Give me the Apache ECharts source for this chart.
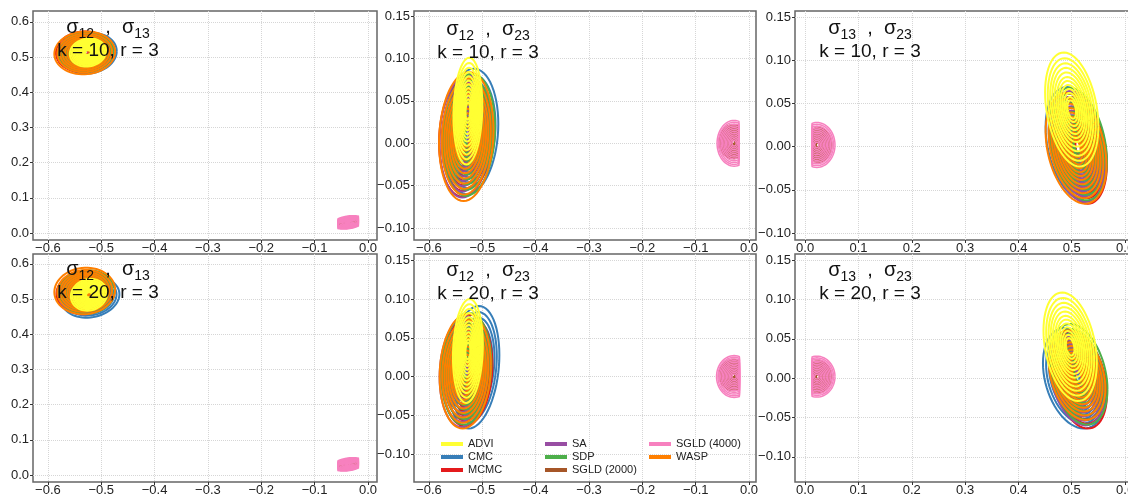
<!DOCTYPE html>
<html>
<head>
<meta charset="utf-8">
<script src="https://cdn.jsdelivr.net/npm/echarts@6/dist/echarts.min.js"></script>
<style>
  html, body { margin: 0; background: #fff; overflow: hidden; }
  #chart { width: 1150px; height: 500px; }
</style>
</head>
<body>
<div id="chart"></div>
<script>
const methods = ['ADVI', 'CMC', 'MCMC', 'SA', 'SDP', 'SGLD (2000)', 'SGLD (4000)', 'WASP'];
const methodColors = ['#FFFF33', '#377EB8', '#E41A1C', '#984EA3', '#4DAF4A', '#A65628', '#F781BF', '#FF7F00'];
// later ones are drawn on top
const drawOrder = [1, 2, 3, 4, 5, 6, 7, 0];

// relative size of each density contour against the outer one
const contourLevels = [1, 0.9, 0.81, 0.73, 0.65, 0.57, 0.5, 0.43, 0.36, 0.29, 0.22, 0.16];
const sgldLevels = [1, 0.92, 0.84, 0.76, 0.68, 0.6, 0.52, 0.44, 0.36, 0.28, 0.2, 0.12];

// outer contour per method: [centre x, centre y, half width, half height, tilt, clip x lo, clip x hi]
const s12s13k10 = [
  [-0.525, 0.513, 0.034, 0.040, 0.1],
  [-0.523, 0.511, 0.052, 0.058, 0.1],
  [-0.533, 0.515, 0.052, 0.058, 0.05],
  [-0.530, 0.513, 0.050, 0.056, 0.05],
  [-0.529, 0.514, 0.051, 0.057, 0.05],
  [-0.037, 0.029, 0.016, 0.015, 0.3, -0.054, -0.020],
  [-0.037, 0.030, 0.030, 0.019, 0.3, -0.056, -0.018],
  [-0.531, 0.512, 0.057, 0.061, 0.05]
];
const s12s23k10 = [
  [-0.527, 0.038, 0.027, 0.063, 0.1],
  [-0.522, 0.014, 0.052, 0.074, 0.12],
  [-0.532, 0.008, 0.049, 0.071, 0.1],
  [-0.533, 0.008, 0.047, 0.072, 0.1],
  [-0.525, 0.010, 0.049, 0.072, 0.12],
  [-0.030, 0.002, 0.026, 0.020, 0, -0.08, -0.021],
  [-0.028, 0.000, 0.032, 0.027, 0, -0.08, -0.019],
  [-0.530, 0.008, 0.051, 0.076, 0.1]
];
const s13s23k10 = [
  [0.500, 0.043, 0.050, 0.066, -0.3],
  [0.508, 0.003, 0.057, 0.066, -0.3],
  [0.515, -0.001, 0.051, 0.065, -0.3],
  [0.510, 0.000, 0.052, 0.064, -0.3],
  [0.512, 0.003, 0.054, 0.065, -0.3],
  [0.024, 0.002, 0.026, 0.020, 0, 0.014, 0.08],
  [0.022, 0.002, 0.034, 0.026, 0, 0.013, 0.08],
  [0.508, -0.002, 0.057, 0.064, -0.3]
];
const s12s13k20 = [
  [-0.523, 0.512, 0.034, 0.045, 0.1],
  [-0.520, 0.505, 0.054, 0.058, 0.15],
  [-0.532, 0.518, 0.052, 0.060, 0.05],
  [-0.530, 0.515, 0.050, 0.058, 0.05],
  [-0.527, 0.520, 0.052, 0.062, 0.05],
  [-0.037, 0.029, 0.016, 0.015, 0.3, -0.054, -0.020],
  [-0.037, 0.030, 0.030, 0.019, 0.3, -0.056, -0.018],
  [-0.531, 0.523, 0.057, 0.066, 0.05]
];
const s12s23k20 = [
  [-0.527, 0.033, 0.028, 0.067, 0.12],
  [-0.516, 0.012, 0.048, 0.079, 0.2],
  [-0.528, 0.008, 0.047, 0.072, 0.1],
  [-0.535, 0.006, 0.045, 0.071, 0.1],
  [-0.530, 0.010, 0.047, 0.072, 0.1],
  [-0.030, 0.002, 0.026, 0.020, 0, -0.08, -0.021],
  [-0.028, 0.000, 0.033, 0.027, 0, -0.08, -0.018],
  [-0.532, 0.007, 0.048, 0.074, 0.1]
];
const s13s23k20 = [
  [0.497, 0.040, 0.050, 0.069, -0.3],
  [0.505, 0.000, 0.059, 0.064, -0.3],
  [0.515, -0.002, 0.051, 0.062, -0.3],
  [0.510, 0.000, 0.051, 0.060, -0.3],
  [0.513, 0.005, 0.054, 0.064, -0.3],
  [0.024, 0.002, 0.026, 0.020, 0, 0.014, 0.08],
  [0.022, 0.002, 0.034, 0.026, 0, 0.013, 0.08],
  [0.510, 0.004, 0.053, 0.057, -0.3]
];

const xTicks12 = [-0.6, -0.5, -0.4, -0.3, -0.2, -0.1, 0.0];
const xTicks13 = [0.0, 0.1, 0.2, 0.3, 0.4, 0.5, 0.6];
const yTicks13 = [0.0, 0.1, 0.2, 0.3, 0.4, 0.5, 0.6];
const yTicks23 = [-0.10, -0.05, 0.00, 0.05, 0.10, 0.15];

const panels = [
  { data: s12s13k10, pair: ['12', '13'], k: 10, grid: [33, 11, 344, 229], x: [-0.628, 0.017], y: [-0.020, 0.631], xt: xTicks12, yt: yTicks13, yd: 1, title: [108, 30] },
  { data: s12s23k10, pair: ['12', '23'], k: 10, grid: [414, 11, 342, 229], x: [-0.628, 0.013], y: [-0.114, 0.156], xt: xTicks12, yt: yTicks23, yd: 2, title: [488, 32] },
  { data: s13s23k10, pair: ['13', '23'], k: 10, grid: [795, 11, 345, 229], x: [-0.019, 0.628], y: [-0.108, 0.157], xt: xTicks13, yt: yTicks23, yd: 2, title: [870, 31] },
  { data: s12s13k20, pair: ['12', '13'], k: 20, grid: [33, 254, 344, 228], x: [-0.628, 0.017], y: [-0.020, 0.628], xt: xTicks12, yt: yTicks13, yd: 1, title: [108, 272] },
  { data: s12s23k20, pair: ['12', '23'], k: 20, grid: [414, 254, 342, 228], x: [-0.628, 0.013], y: [-0.136, 0.158], xt: xTicks12, yt: yTicks23, yd: 2, title: [488, 273] },
  { data: s13s23k20, pair: ['13', '23'], k: 20, grid: [795, 254, 345, 228], x: [-0.019, 0.628], y: [-0.132, 0.158], xt: xTicks13, yt: yTicks23, yd: 2, title: [870, 273] }
];

const font = 'Liberation Sans, Arial, sans-serif';

function fmt(v, d) {
  return (v < -1e-9 ? '\u2212' : '') + Math.abs(v).toFixed(d);
}

function ring(p, s) {
  const cx = p[0], cy = p[1], rx = p[2], ry = p[3], tilt = p[4];
  const c = Math.sqrt(1 - tilt * tilt);
  const pts = [];
  for (let i = 0; i <= 64; i++) {
    const t = i / 64 * 2 * Math.PI;
    let x = cx + s * rx * Math.cos(t);
    const y = cy + s * ry * (tilt * Math.cos(t) + c * Math.sin(t));
    if (p.length > 5) x = Math.min(Math.max(x, p[5]), p[6]);
    pts.push([x, y]);
  }
  return pts;
}

function axisBase(idx, range, ticks, digits) {
  return {
    type: 'value', gridIndex: idx, min: range[0], max: range[1],
    axisLine: { show: false, onZero: false },
    axisTick: { show: true, length: 3, customValues: ticks, lineStyle: { color: '#333' } },
    axisLabel: {
      customValues: ticks, fontSize: 13, color: '#222', fontFamily: font,
      formatter: v => fmt(v, digits)
    },
    splitLine: { show: true, lineStyle: { color: '#d6d6d6', type: 'dotted', width: 1 } }
  };
}

const grid = [], xAxis = [], yAxis = [], series = [], graphic = [];

panels.forEach((p, i) => {
  grid.push({
    left: p.grid[0], top: p.grid[1], width: p.grid[2], height: p.grid[3],
    show: true, borderColor: '#666', borderWidth: 1.5, backgroundColor: 'transparent'
  });
  const xa = axisBase(i, p.x, p.xt, 1);
  xa.axisLabel.margin = 2;
  xAxis.push(xa);
  const ya = axisBase(i, p.y, p.yt, p.yd);
  ya.axisLabel.margin = 4;
  yAxis.push(ya);

  drawOrder.forEach(m => {
    const sgld = m === 5 || m === 6;
    const levels = sgld ? sgldLevels : contourLevels;
    series.push({
      type: 'lines',
      name: methods[m],
      coordinateSystem: 'cartesian2d',
      xAxisIndex: i,
      yAxisIndex: i,
      polyline: true,
      silent: true,
      lineStyle: { color: methodColors[m], width: sgld ? 1.5 : 2, opacity: 1 },
      data: levels.map(s => ({ coords: ring(p.data[m], s) }))
    });
  });

  graphic.push({
    type: 'text', x: p.title[0], y: p.title[1], z: 100,
    style: {
      text: '{a|\u03c3}{b|' + p.pair[0] + '}{a|  ,  \u03c3}{b|' + p.pair[1] + '}',
      align: 'center', verticalAlign: 'middle',
      rich: {
        a: { fontSize: 20, fontFamily: font, fill: '#111', lineHeight: 22, padding: [0, 0, 4, 0], verticalAlign: 'bottom' },
        b: { fontSize: 14, fontFamily: font, fill: '#111', lineHeight: 16, verticalAlign: 'bottom' }
      }
    }
  });
  graphic.push({
    type: 'text', x: p.title[0], y: p.title[1] + 21, z: 100,
    style: {
      text: 'k = ' + p.k + ', r = 3',
      align: 'center', verticalAlign: 'middle',
      fontSize: 19, fontFamily: font, fill: '#111'
    }
  });
});

const legendLeft = [436, 540, 644];
const legend = legendLeft.map((left, col) => ({
  left: left, top: 433, orient: 'vertical', icon: 'rect',
  itemWidth: 22, itemHeight: 4, itemGap: 1, selectedMode: false,
  textStyle: { fontSize: 11, color: '#222', fontFamily: font, lineHeight: 12, padding: [0, 0, 0, 0] },
  data: methods.slice(col * 3, col * 3 + 3).map((n, j) => ({
    name: n, itemStyle: { color: methodColors[col * 3 + j], borderWidth: 0 }
  }))
}));

const chart = echarts.init(document.getElementById('chart'));
chart.setOption({
  animation: false,
  backgroundColor: '#fff',
  grid: grid,
  xAxis: xAxis,
  yAxis: yAxis,
  legend: legend,
  graphic: graphic,
  series: series
});
</script>
</body>
</html>
